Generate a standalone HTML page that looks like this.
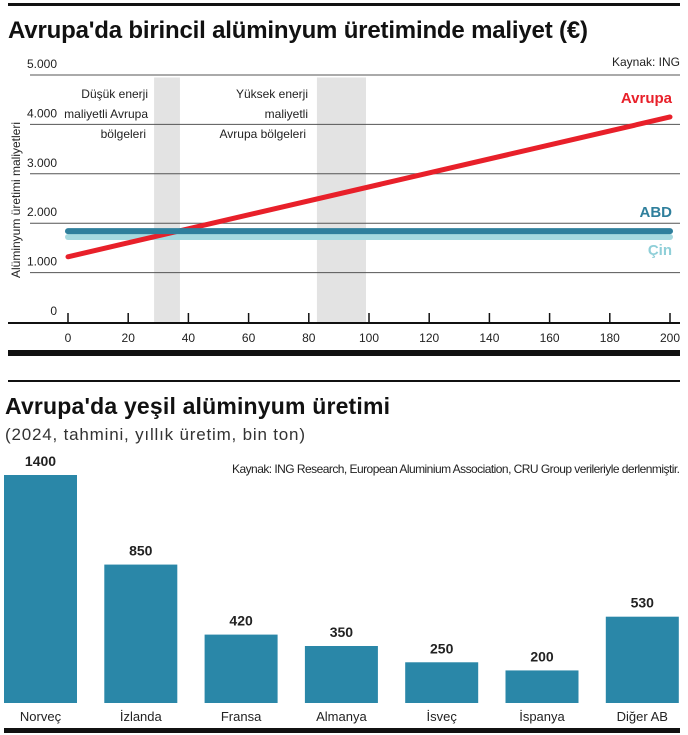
<!DOCTYPE html>
<html><head><meta charset="utf-8"><style>
body{margin:0;background:#fff;}
svg{display:block;font-family:"Liberation Sans Narrow","Liberation Sans",sans-serif;}
</style></head><body>
<svg id="s" width="688" height="735" viewBox="0 0 688 735">
<rect x="8" y="3" width="672" height="3" fill="#111"/>
<text x="8" y="38" font-size="24" font-weight="bold" fill="#111" font-family="Liberation Sans" textLength="580">Avrupa'da birincil alüminyum üretiminde maliyet (€)</text>
<text x="680" y="66" font-size="12" text-anchor="end" fill="#222">Kaynak: ING</text>
<g id="c1"></g>
<rect x="8" y="350" width="672" height="6" fill="#111"/>
<rect x="8" y="380" width="672" height="2" fill="#111"/>
<text x="5" y="414" font-size="23" font-weight="bold" fill="#111" font-family="Liberation Sans" textLength="385">Avrupa'da yeşil alüminyum üretimi</text>
<text x="5" y="440" font-size="17" fill="#333" font-family="Liberation Sans" textLength="300">(2024, tahmini, yıllık üretim, bin ton)</text>
<text x="680" y="473" font-size="12" text-anchor="end" fill="#222" textLength="448">Kaynak: ING Research, European Aluminium Association, CRU Group verileriyle derlenmiştir.</text>
<g id="c2"></g>
<rect x="4" y="728" width="676" height="5" fill="#111"/>
</svg>
<script>
// Chart 1 data
const yTicks=[0,1000,2000,3000,4000,5000];
const yTickLabels=["0","1.000","2.000","3.000","4.000","5.000"];
const xTicks=[0,20,40,60,80,100,120,140,160,180,200];
const avrupaX=[0,200];
const avrupaY=[1320,4150];
const abdY=[1840,1840];
const cinY=[1720,1720];
const bands=[[28.6,37.2],[82.7,99]];
// Chart 2 data
const categories=["Norveç","İzlanda","Fransa","Almanya","İsveç","İspanya","Diğer AB"];
const production=[1400,850,420,350,250,200,530];

const NS="http://www.w3.org/2000/svg";
function mk(p,t,a){const e=document.createElementNS(NS,t);for(const k in a)e.setAttribute(k,a[k]);p.appendChild(e);return e;}
const xs=v=>68+v*(602/200);
const ys=v=>322-v*0.0494;
const c1=document.getElementById('c1');
bands.forEach(b=>{
  const r=mk(c1,'rect',{x:xs(b[0]),y:ys(4950),width:xs(b[1])-xs(b[0]),height:ys(0)-ys(4950),fill:'#e3e3e3'});
  
  
});
yTicks.forEach((v,i)=>{
  if(v>0){const l=mk(c1,'line',{x1:30,x2:680,y1:ys(v),y2:ys(v),stroke:'#555','stroke-width':1});
  
  }
  const t=mk(c1,'text',{x:57,y:ys(v)-7,'font-size':12,'text-anchor':'end',fill:'#222'});t.textContent=yTickLabels[i];
  
  
});
const ax=mk(c1,'line',{x1:8,x2:680,y1:323,y2:323,stroke:'#111','stroke-width':2});


xTicks.forEach(v=>{
  const l=mk(c1,'line',{x1:xs(v),x2:xs(v),y1:313,y2:323,stroke:'#111','stroke-width':1.5});
  
  
  const t=mk(c1,'text',{x:xs(v),y:342,'font-size':12,'text-anchor':'middle',fill:'#222'});t.textContent=v;
  
  
});
function series(yv,col,w,name){
  const l=mk(c1,'line',{x1:xs(avrupaX[0]),x2:xs(avrupaX[1]),y1:ys(yv[0]),y2:ys(yv[1]),stroke:col,'stroke-width':w,'stroke-linecap':'round'});
  
  
}
series(cinY,'#a6d9df',6,'cin-line');
series(avrupaY,'#e8202a',5,'avrupa-line');
series(abdY,'#2f7f9c',6,'abd-line');
[['Avrupa',ys(4150)-14,'#e8202a','avrupa-label'],['ABD',ys(1840)-14,'#2f7f9c','abd-label'],['Çin',ys(1720)+18,'#8fcfd8','cin-label']].forEach(a=>{
  const t=mk(c1,'text',{x:672,y:a[1],'font-size':15,'font-weight':'bold','text-anchor':'end',fill:a[2]});t.textContent=a[0];
  
  
});
[['Düşük enerji',148,98],['maliyetli Avrupa',148,118],['bölgeleri',146,138],['Yüksek enerji',308,98],['maliyetli',308,118],['Avrupa bölgeleri',306,138]].forEach(a=>{
  const t=mk(c1,'text',{x:a[1],y:a[2],'font-size':12,'text-anchor':'end',fill:'#222'});t.textContent=a[0];
  
  
});
const yt=mk(c1,'text',{x:0,y:0,'font-size':12,'text-anchor':'middle',fill:'#222',transform:'translate(20,200) rotate(-90)'});
yt.textContent='Alüminyum üretimi maliyetleri';



const c2=document.getElementById('c2');
const base=703,k=228/1400;
categories.forEach((c,i)=>{
  const x=4+i*100.3,h=production[i]*k;
  const r=mk(c2,'rect',{x:x,y:base-h,width:73,height:h,fill:'#2a87a8'});
  
  
  const v=mk(c2,'text',{x:x+36.5,y:base-h-9,'font-size':14,'font-weight':'bold','text-anchor':'middle',fill:'#222'});v.textContent=production[i];
  
  
  const l=mk(c2,'text',{x:x+36.5,y:721,'font-size':13,'text-anchor':'middle',fill:'#222'});l.textContent=c;
  
  
});
</script>
</body></html>
